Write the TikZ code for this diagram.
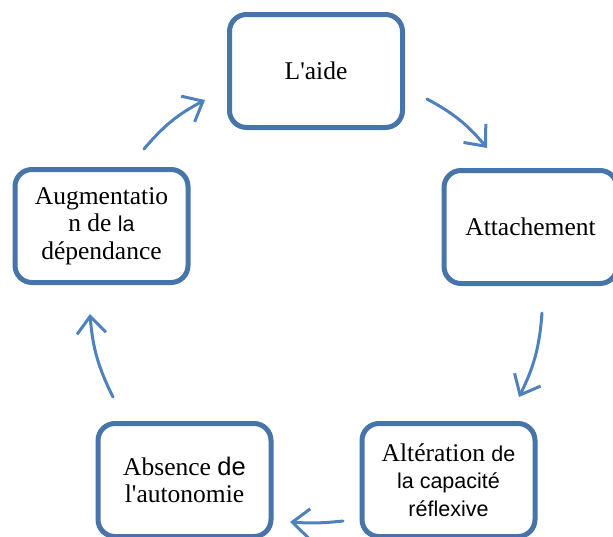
\documentclass[tikz,border=0pt]{standalone}
\usepackage{fontspec}
\setmainfont{Liberation Serif}
\setsansfont{Liberation Sans}
\usetikzlibrary{arrows.meta}
\definecolor{boxblue}{RGB}{71,117,170}
\definecolor{arrowblue}{RGB}{79,129,189}
\newcommand{\arial}[1]{{\fontsize{21.5pt}{27.5pt}\selectfont\sffamily #1}}
\tikzstyle{stage}=[draw=boxblue, line width=5pt, rounded corners=17pt, fill=white,
    minimum width=173pt, minimum height=113pt, inner sep=0pt, align=center,
    font=\fontsize{25.5pt}{27.5pt}\selectfont]
\tikzstyle{flow}=[draw=arrowblue, line width=3pt, line cap=round,
    -{Straight Barb[length=17pt, width=29pt, line width=3pt]}]

\begin{document}
\begin{tikzpicture}[x=1pt, y=-1pt]
    \clip (0,0) rectangle (613,536);
% Stages of the cycle
    \node[stage] (aide) at (316,71) {L\textquotesingle aide};
    \node[stage] (attach) at (530.5,227) {Attachement};
    \node[stage] (alter) at (448.5,480) {Altération \arial{de}\\\arial{la capacité}\\\arial{réflexive}};
    \node[stage] (absence) at (184.5,480) {Absence \textsf{de}\\l\textquotesingle autonomie};
    \node[stage] (augment) at (101.5,226) {Augmentatio\\n de \arial{la}\\dépendance};
% Arrow ends
    \coordinate (augTail) at (144,149);
    \coordinate (aideHead) at (205,100);
    \coordinate (aideTail) at (427,99);
    \coordinate (attachHead) at (487,148);
    \coordinate (attachTail) at (542,313);
    \coordinate (alterHead) at (519,397);
    \coordinate (alterTail) at (343,521);
    \coordinate (absenceHead) at (290,522);
    \coordinate (absenceTail) at (113,397);
    \coordinate (augHead) at (90,314);
% Arrows round the circle
    \draw[flow] (augTail) to[bend left=11] (aideHead);
    \draw[flow] (aideTail) to[bend left=11] (attachHead);
    \draw[flow] (attachTail) to[bend left=11] (alterHead);
    \draw[flow] (alterTail) to[bend left=5] (absenceHead);
    \draw[flow] (absenceTail) to[bend left=11] (augHead);
\end{tikzpicture}
\end{document}
